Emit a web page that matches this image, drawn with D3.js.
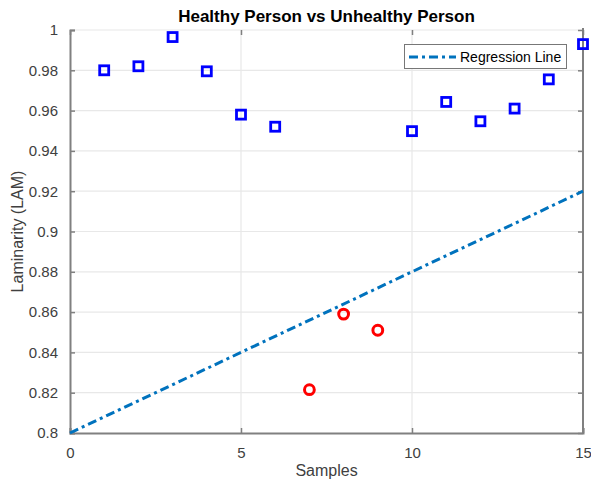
<!DOCTYPE html>
<html><head><meta charset="utf-8">
<script src="https://cdn.jsdelivr.net/npm/d3@7"></script>
<style>body{margin:0;background:#fff;}svg{display:block;font-family:"Liberation Sans",Arial,sans-serif;}</style>
</head><body>
<svg id="c" width="591" height="489"></svg>
<script>
const healthyX = [1,2,3,4,5,6,10,11,12,13,14,15];
const healthyY = [0.980,0.982,0.9965,0.9795,0.958,0.952,0.9498,0.9643,0.9547,0.961,0.9755,0.993];
const unhealthyX = [7,8,9];
const unhealthyY = [0.8215,0.859,0.851];
const regX = [0,15];
const regY = [0.80,0.92];
const xTicks = [0,5,10,15];
const yTicks = [0.8,0.82,0.84,0.86,0.88,0.9,0.92,0.94,0.96,0.98,1];
const titleText = "Healthy Person vs Unhealthy Person";
const xLabel = "Samples";
const yLabel = "Laminarity (LAM)";
const legendLabel = "Regression Line";

const svg = d3.select("#c");
const L=70,R=583,T=30,B=433;
const x = d3.scaleLinear().domain([0,15]).range([L,R]);
const y = d3.scaleLinear().domain([0.8,1]).range([B,T]);
const axisCol="#808080", textCol="#404040";

// grid
svg.append("g").selectAll("line").data(yTicks.slice(1)).join("line")
  .attr("x1",L).attr("x2",R).attr("y1",d=>y(d)).attr("y2",d=>y(d))
  .attr("stroke","#e8e8e8").attr("stroke-width",1.2);
svg.append("g").selectAll("line").data(xTicks.slice(1,-1)).join("line")
  .attr("y1",T).attr("y2",B).attr("x1",d=>x(d)).attr("x2",d=>x(d))
  .attr("stroke","#e8e8e8").attr("stroke-width",1.2);

// axes
const fmtY = d=> d===1?"1":(d===0.8?"0.8":(d===0.9?"0.9":d3.format(".2f")(d)));
const gx = svg.append("g").attr("transform",`translate(0,${B})`)
  .call(d3.axisBottom(x).tickValues(xTicks).tickSize(-5).tickPadding(14).tickFormat(d3.format("d")));
const gy = svg.append("g").attr("transform",`translate(${L},0)`)
  .call(d3.axisLeft(y).tickValues(yTicks).tickSize(-5).tickPadding(12).tickFormat(fmtY));
const gr = svg.append("g").attr("transform",`translate(${R},0)`)
  .call(d3.axisRight(y).tickValues(yTicks).tickSize(-5).tickFormat(""));
const gt = svg.append("g").attr("transform",`translate(0,${T})`)
  .call(d3.axisTop(x).tickValues(xTicks).tickSize(-5).tickFormat(""));
[gx,gy,gr,gt].forEach(g=>{
  g.select(".domain").attr("stroke",axisCol).attr("stroke-width",2);
  g.selectAll(".tick line").attr("stroke",axisCol).attr("stroke-width",1.5);
  g.selectAll(".tick text").attr("fill",textCol).attr("font-size",15).attr("font-family","Liberation Sans, Arial, sans-serif");
});
gt.select(".domain").remove();
gr.select(".domain").attr("d",`M0,${T-2}V${B}`);

// regression line
const line = d3.line().x(d=>x(d[0])).y(d=>y(d[1]));
svg.append("path").datum(regX.map((v,i)=>[v,regY[i]])).attr("d",line)
  .attr("fill","none").attr("stroke","#0072BD").attr("stroke-width",3)
  .attr("stroke-dasharray","9,4,3,4");

// healthy squares
svg.append("g").selectAll("rect").data(healthyX.map((v,i)=>[v,healthyY[i]])).join("rect")
  .attr("x",d=>x(d[0])-4.5).attr("y",d=>y(d[1])-4.5).attr("width",9).attr("height",9)
  .attr("fill","none").attr("stroke","#0000ff").attr("stroke-width",2.8);
// unhealthy circles
svg.append("g").selectAll("circle").data(unhealthyX.map((v,i)=>[v,unhealthyY[i]])).join("circle")
  .attr("cx",d=>x(d[0])).attr("cy",d=>y(d[1])).attr("r",4.9)
  .attr("fill","none").attr("stroke","#ff0000").attr("stroke-width",3);

// title & labels
svg.append("text").attr("x",(L+R)/2).attr("y",22).attr("text-anchor","middle")
  .attr("font-weight","bold").attr("font-size",17).attr("fill","#000").text(titleText);
svg.append("text").attr("x",(L+R)/2).attr("y",476).attr("text-anchor","middle")
  .attr("font-size",16).attr("fill",textCol).text(xLabel);
svg.append("text").attr("transform",`translate(23,${(T+B)/2}) rotate(-90)`).attr("text-anchor","middle")
  .attr("font-size",16).attr("fill",textCol).text(yLabel);

// legend
const lg = svg.append("g");
lg.append("rect").attr("x",404.5).attr("y",44.5).attr("width",162).attr("height",24)
  .attr("fill","#fff").attr("stroke","#777").attr("stroke-width",1);
lg.append("line").attr("x1",409).attr("x2",456).attr("y1",57).attr("y2",57)
  .attr("stroke","#0072BD").attr("stroke-width",3).attr("stroke-dasharray","9,4,3,4");
lg.append("text").attr("x",460).attr("y",62).attr("font-size",14).attr("fill","#000").text(legendLabel);
</script>
</body></html>
